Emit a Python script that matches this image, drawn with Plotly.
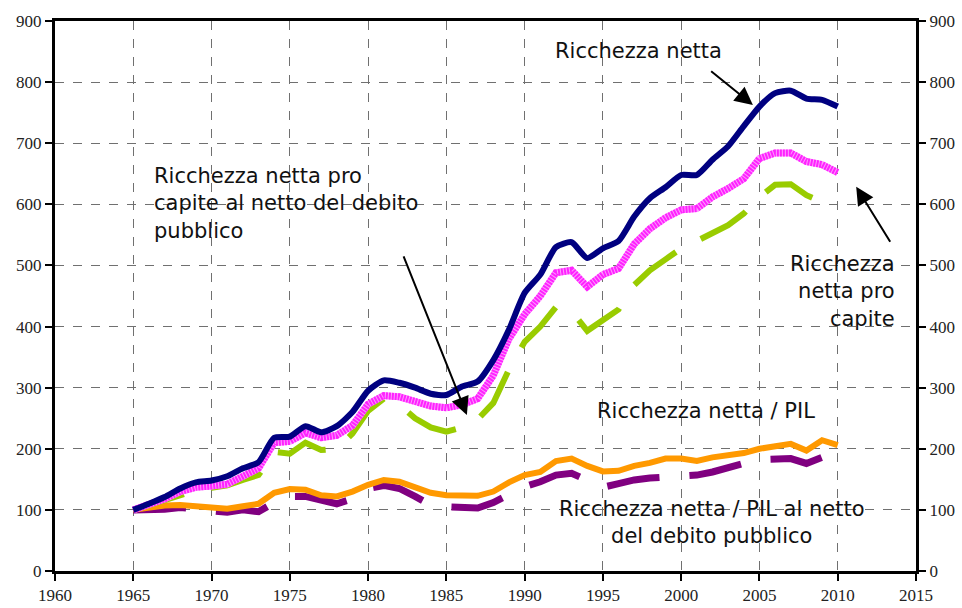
import plotly.graph_objects as go

years = list(range(1965, 2011))

ricchezza_netta = [100, 110, 121, 135, 145, 148, 155, 168, 178, 218,
                   220, 237, 227, 237, 260, 295, 312, 308, 300, 290,
                   288, 302, 310, 345, 395, 455, 485, 530, 538, 512,
                   528, 540, 580, 610, 628, 648, 648, 673, 695, 728,
                   760, 782, 786, 773, 771, 760]

pro_capite = [100, 108, 118, 130, 137, 139, 142, 155, 168, 210,
              212, 226, 218, 222, 238, 273, 287, 285, 278, 270,
              267, 272, 282, 320, 380, 420, 450, 488, 492, 465,
              485, 495, 535, 560, 578, 591, 593, 612, 626, 642,
              675, 684, 684, 670, 665, 652]

pro_capite_netto_debito = [100, 108, 118, 126, 132, 136, 140, 149, 157, 195,
                           192, 210, 198, 200, 225, 262, 282, 272, 250, 235,
                           228, 235, 248, 275, 330, 375, 400, 432, 425, 393,
                           412, 428, 468, 492, 510, 528, 540, 553, 566, 585,
                           612, 632, 633, 615, 604, None]

ricchezza_pil = [100, 104, 107, 108, 106, 104, 102, 106, 110, 128,
                 134, 133, 124, 122, 130, 141, 149, 146, 137, 128,
                 124, 123, 123, 130, 145, 157, 162, 180, 184, 172,
                 163, 164, 172, 177, 184, 184, 180, 186, 189, 193,
                 200, 203, 208, 197, 214, 206]

ricchezza_pil_netto_debito = [100, 100, 101, 104, 102, 98, 96, 100, 97, 112,
                              122, 122, 116, 110, 118, 135, 140, 135, 122, 108,
                              105, 104, 103, 112, 125, 138, 146, 157, 160, 148,
                              137, 143, 149, 152, 153, 155, 157, 162, 170, 176,
                              182, 184, 184, 176, 186, None]

x_ticks = list(range(1960, 2016, 5))
y_ticks = list(range(0, 901, 100))

fig = go.Figure()

fig.add_trace(go.Scatter(x=years, y=ricchezza_pil_netto_debito, mode="lines",
                         line=dict(color="#800080", width=7, dash="53px,30px"),
                         name="Ricchezza netta / PIL al netto del debito pubblico"))
fig.add_trace(go.Scatter(x=years, y=ricchezza_pil, mode="lines",
                         line=dict(color="#FF9900", width=6),
                         name="Ricchezza netta / PIL"))
fig.add_trace(go.Scatter(x=years, y=pro_capite_netto_debito, mode="lines",
                         line=dict(color="#99CC00", width=6, dash="53px,28px"),
                         name="Ricchezza netta pro capite al netto del debito pubblico"))
fig.add_trace(go.Scatter(x=years, y=pro_capite, mode="lines",
                         line=dict(color="#FF99FF", width=7),
                         name="Ricchezza netta pro capite", showlegend=False))
fig.add_trace(go.Scatter(x=years, y=pro_capite, mode="lines",
                         line=dict(color="#FF22FF", width=7, dash="2px,1px"),
                         name="Ricchezza netta pro capite"))
fig.add_trace(go.Scatter(x=years, y=ricchezza_netta, mode="lines",
                         line=dict(color="#000080", width=6, shape="spline", smoothing=0.6),
                         name="Ricchezza netta"))
# invisible trace for right axis
fig.add_trace(go.Scatter(x=[years[0]], y=[ricchezza_netta[0]], yaxis="y2",
                         mode="markers", marker=dict(opacity=0), showlegend=False,
                         hoverinfo="skip"))

tickfont = dict(family="Liberation Serif", size=17, color="#222222")
axis_common = dict(showline=True, linecolor="black", linewidth=3,
                   ticks="outside", ticklen=7, tickwidth=2, tickcolor="black",
                   tickfont=tickfont, zeroline=False, automargin=False)

fig.update_layout(
    width=962, height=608, autosize=False,
    margin=dict(l=55, r=46, t=21, b=37, pad=0, autoexpand=False),
    paper_bgcolor="white", plot_bgcolor="white",
    showlegend=False,
    xaxis=dict(range=[1960, 2015], tickvals=x_ticks, mirror=True,
               showgrid=True, gridcolor="#707070", gridwidth=1, griddash="dash",
               **axis_common),
    yaxis=dict(range=[0, 900], tickvals=y_ticks,
               showgrid=True, gridcolor="#707070", gridwidth=1, griddash="dash",
               **axis_common),
    yaxis2=dict(range=[0, 900], tickvals=y_ticks, overlaying="y", side="right",
                showgrid=False, **axis_common),
)

font_ann = dict(family="DejaVu Sans", size=21, color="#111111")

texts = [
    dict(x=1997.25, y=851, text="Ricchezza netta", xanchor="center", align="center"),
    dict(x=1966.2, y=602, text="Ricchezza netta pro<br>capite al netto del debito<br>pubblico",
         xanchor="left", align="left"),
    dict(x=2013.8, y=458, text="Ricchezza<br>netta pro<br>capite", xanchor="right", align="right"),
    dict(x=2001.56, y=262, text="Ricchezza netta / PIL", xanchor="center", align="center"),
    dict(x=2001.94, y=80, text="Ricchezza netta / PIL al netto<br>del debito pubblico",
         xanchor="center", align="center"),
]
for t in texts:
    fig.add_annotation(xref="x", yref="y", showarrow=False, yanchor="middle",
                       font=font_ann, **t)

arrows = [
    (2004.58, 762.6, 2001.82, 819.8),
    (1986.31, 255.3, 1982.23, 517.1),
    (2011.18, 628.9, 2013.41, 536.2),
]
for x, y, ax, ay in arrows:
    fig.add_annotation(x=x, y=y, ax=ax, ay=ay, xref="x", yref="y", axref="x", ayref="y",
                       text="", showarrow=True, arrowhead=2, arrowsize=1.8,
                       arrowwidth=2, arrowcolor="black", standoff=0)

fig.write_html("out.html",
               config={"displayModeBar": False, "responsive": False},
               post_script="document.body.style.margin='0';document.body.style.overflow='hidden';")
